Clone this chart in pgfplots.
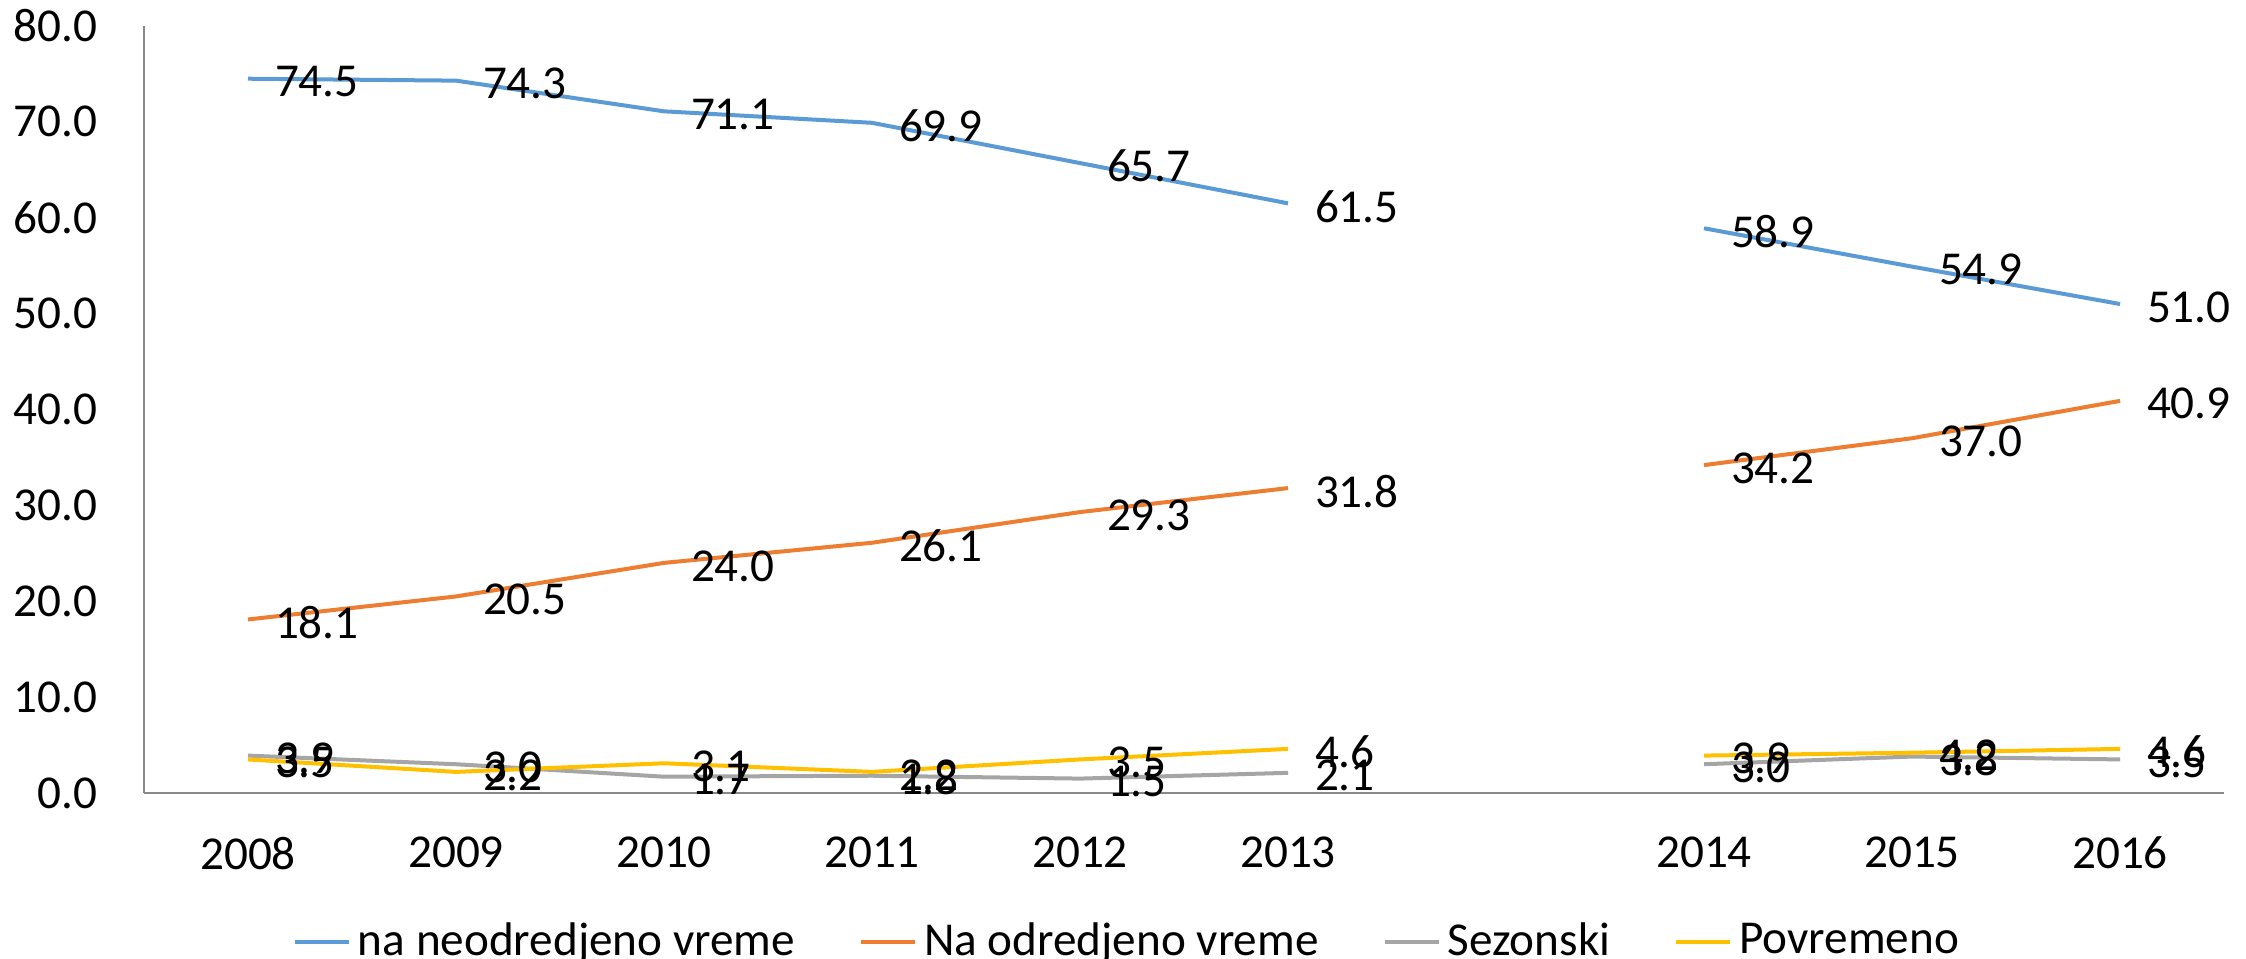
\documentclass[border=0pt]{standalone}
\usepackage{fontspec}
\setmainfont{Carlito}
\usepackage{pgfplots}
\pgfplotsset{compat=1.18}
\definecolor{cblue}{HTML}{5B9BD5}
\definecolor{corange}{HTML}{ED7D31}
\definecolor{cgray}{HTML}{A5A5A5}
\definecolor{cyellow}{HTML}{FFC000}
\definecolor{caxis}{HTML}{898989}
\newcommand\chf{\fontsize{11.8}{14}\selectfont}
\begin{document}
\chf
\begin{tikzpicture}
\begin{axis}[
  at={(0pt,0pt)}, anchor=south west,
  scale only axis, width=520pt, height=191.75pt,
  xmin=-0.5, xmax=9.5, ymin=0, ymax=80,
  xtick={0,1,2,3,4,5,7,8,9},
  xticklabels={2008,2009,2010,2011,2012,2013,2014,2015,2016},
  ytick={0,10,20,30,40,50,60,70,80},
  y tick label style={/pgf/number format/fixed, /pgf/number format/fixed zerofill, /pgf/number format/precision=1, /pgf/number format/assume math mode=true},
  yticklabel style={anchor=east, inner sep=0pt, xshift=-11.5pt, font=\chf},
  xticklabel style={anchor=north, inner sep=0pt, yshift=-10.75pt, font=\chf},
  major tick length=0pt,
  tick style={draw=none},
  axis lines=left,
  x axis line style={-, draw=caxis, line width=0.5pt},
  y axis line style={-, draw=caxis, line width=0.5pt},
  clip=false,
  every axis plot/.append style={line width=1pt, line join=round},
  nodes near coords={\pgfmathprintnumber[fixed, fixed zerofill, precision=1, assume math mode=true]{\pgfplotspointmeta}},
  every node near coord/.append style={anchor=west, inner sep=0pt, xshift=6.25pt, yshift=-0.75pt, black, font=\chf},
  legend columns=4,
  legend style={draw=none, fill=none, at={(0.07163,-0.1945)}, anchor=west, inner sep=0pt, outer sep=0pt,
    nodes={inner sep=0pt, font=\chf},
    /tikz/every odd column/.append style={column sep=1.75pt},
    /tikz/every even column/.append style={column sep=16pt}},
  legend image code/.code={\draw[#1, line width=1pt] (0pt,0pt) -- (13.5pt,0pt);},
]
\addplot[cblue] coordinates {(0,74.5) (1,74.3) (2,71.1) (3,69.9) (4,65.7) (5,61.5)};
\addlegendentry{na neodredjeno vreme}
\addplot[corange] coordinates {(0,18.1) (1,20.5) (2,24.0) (3,26.1) (4,29.3) (5,31.8)};
\addlegendentry{Na odredjeno vreme}
\addplot[cgray] coordinates {(0,3.9) (1,3.0) (2,1.7) (3,1.8) (4,1.5) (5,2.1)};
\addlegendentry{Sezonski}
\addplot[cyellow] coordinates {(0,3.5) (1,2.2) (2,3.1) (3,2.2) (4,3.5) (5,4.6)};
\addlegendentry{Povremeno}
\addplot[cblue, forget plot] coordinates {(7,58.9) (8,54.9) (9,51.0)};
\addplot[corange, forget plot] coordinates {(7,34.2) (8,37.0) (9,40.9)};
\addplot[cgray, forget plot] coordinates {(7,3.0) (8,3.8) (9,3.5)};
\addplot[cyellow, forget plot] coordinates {(7,3.9) (8,4.2) (9,4.6)};
\end{axis}
\pgfresetboundingbox
\path (-36pt,-41.5pt) rectangle (525.5pt,198.25pt);
\end{tikzpicture}
\end{document}
